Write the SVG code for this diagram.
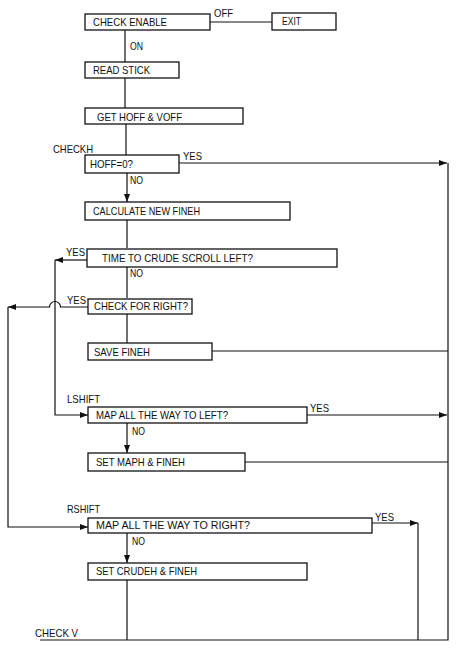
<svg xmlns="http://www.w3.org/2000/svg" width="460" height="648" viewBox="0 0 460 648">
<style>
  .box { fill: #ffffff; stroke: #111111; stroke-width: 1.3; }
  .ln { fill: none; stroke: #111111; stroke-width: 1.2; }
  text { font-family: "Liberation Sans", Arial, sans-serif; font-size: 10.5px; fill: #111111; }
</style>
<defs>
  <marker id="arr" markerUnits="userSpaceOnUse" markerWidth="8" markerHeight="6" refX="8" refY="3" orient="auto">
    <path d="M0,0 L8,3 L0,6 Z" fill="#111111"/>
  </marker>
</defs>
<rect width="460" height="648" fill="#ffffff"/>

<g id="connectors">
  <path class="ln" d="M210,22 H272"/>
  <path class="ln" d="M125,30 V62"/>
  <path class="ln" d="M125,78 V108"/>
  <path class="ln" d="M126,124 V155"/>
  <path class="ln" d="M127,173 V202" marker-end="url(#arr)"/>
  <path class="ln" d="M179,163 H447" marker-end="url(#arr)"/>
  <path class="ln" d="M127,220 V248"/>
  <path class="ln" d="M87,260 H55" marker-end="url(#arr)"/>
  <path class="ln" d="M55,260 V415 H88" marker-end="url(#arr)"/>
  <path class="ln" d="M127,267 V298"/>
  <path class="ln" d="M88,307 H60.5 A5.5,5.5 0 0 0 49.5,307 H8" marker-end="url(#arr)"/>
  <path class="ln" d="M8,307 V527 H88" marker-end="url(#arr)"/>
  <path class="ln" d="M127,313 V343"/>
  <path class="ln" d="M212,351 H448"/>
  <path class="ln" d="M307,415 H447" marker-end="url(#arr)"/>
  <path class="ln" d="M127,423 V453" marker-end="url(#arr)"/>
  <path class="ln" d="M245,462 H448"/>
  <path class="ln" d="M372,523 H418" marker-end="url(#arr)"/>
  <path class="ln" d="M418,523 V640"/>
  <path class="ln" d="M127,533 V563" marker-end="url(#arr)"/>
  <path class="ln" d="M127,580 V640"/>
  <path class="ln" d="M40,640 H448 V163"/>
</g>

<g id="labels">
  <text x="214" y="17" textLength="19" lengthAdjust="spacingAndGlyphs">OFF</text>
  <text x="130" y="50" textLength="13" lengthAdjust="spacingAndGlyphs">ON</text>
  <text x="53" y="153" textLength="40" lengthAdjust="spacingAndGlyphs">CHECKH</text>
  <text x="183" y="160" textLength="19" lengthAdjust="spacingAndGlyphs">YES</text>
  <text x="130" y="184" textLength="13" lengthAdjust="spacingAndGlyphs">NO</text>
  <text x="66" y="256" textLength="19" lengthAdjust="spacingAndGlyphs">YES</text>
  <text x="130" y="277" textLength="13" lengthAdjust="spacingAndGlyphs">NO</text>
  <text x="67" y="304" textLength="19" lengthAdjust="spacingAndGlyphs">YES</text>
  <text x="67" y="403" textLength="33" lengthAdjust="spacingAndGlyphs">LSHIFT</text>
  <text x="310" y="412" textLength="19" lengthAdjust="spacingAndGlyphs">YES</text>
  <text x="132" y="435" textLength="13" lengthAdjust="spacingAndGlyphs">NO</text>
  <text x="67" y="513" textLength="33" lengthAdjust="spacingAndGlyphs">RSHIFT</text>
  <text x="375" y="521" textLength="19" lengthAdjust="spacingAndGlyphs">YES</text>
  <text x="132" y="545" textLength="13" lengthAdjust="spacingAndGlyphs">NO</text>
  <text x="35" y="637" textLength="43" lengthAdjust="spacingAndGlyphs">CHECK V</text>
</g>

<g id="check_enable">
  <rect class="box" x="85" y="14" width="125" height="16"/>
  <text x="93" y="26" textLength="74" lengthAdjust="spacingAndGlyphs">CHECK ENABLE</text>
</g>
<g id="exit">
  <rect class="box" x="272" y="13" width="64" height="17"/>
  <text x="282" y="25" textLength="19" lengthAdjust="spacingAndGlyphs">EXIT</text>
</g>
<g id="read_stick">
  <rect class="box" x="85" y="62" width="94" height="16"/>
  <text x="93" y="74" textLength="57" lengthAdjust="spacingAndGlyphs">READ STICK</text>
</g>
<g id="get_hoff_voff">
  <rect class="box" x="85" y="108" width="158" height="16"/>
  <text x="97" y="121" textLength="85" lengthAdjust="spacingAndGlyphs">GET  HOFF &amp; VOFF</text>
</g>
<g id="hoff_zero">
  <rect class="box" x="85" y="155" width="94" height="18"/>
  <text x="90" y="168" textLength="43" lengthAdjust="spacingAndGlyphs">HOFF=0?</text>
</g>
<g id="calculate_fineh">
  <rect class="box" x="85" y="202" width="205" height="18"/>
  <text x="93" y="215" textLength="107" lengthAdjust="spacingAndGlyphs">CALCULATE NEW FINEH</text>
</g>
<g id="crude_scroll_left">
  <rect class="box" x="87" y="249" width="250" height="18"/>
  <text x="102" y="262" textLength="151" lengthAdjust="spacingAndGlyphs">TIME TO CRUDE SCROLL LEFT?</text>
</g>
<g id="check_right">
  <rect class="box" x="88" y="299" width="104" height="15"/>
  <text x="94" y="310" textLength="94" lengthAdjust="spacingAndGlyphs">CHECK FOR RIGHT?</text>
</g>
<g id="save_fineh">
  <rect class="box" x="88" y="343" width="124" height="17"/>
  <text x="94" y="356" textLength="56" lengthAdjust="spacingAndGlyphs">SAVE FINEH</text>
</g>
<g id="map_left">
  <rect class="box" x="88" y="407" width="219" height="16"/>
  <text x="96" y="419" textLength="132" lengthAdjust="spacingAndGlyphs">MAP ALL THE WAY TO LEFT?</text>
</g>
<g id="set_maph">
  <rect class="box" x="88" y="453" width="157" height="18"/>
  <text x="96" y="466" textLength="89" lengthAdjust="spacingAndGlyphs">SET MAPH &amp; FINEH</text>
</g>
<g id="map_right">
  <rect class="box" x="88" y="518" width="284" height="15"/>
  <text x="96" y="529" textLength="154" lengthAdjust="spacingAndGlyphs">MAP ALL THE WAY TO RIGHT?</text>
</g>
<g id="set_crudeh">
  <rect class="box" x="88" y="563" width="219" height="17"/>
  <text x="96" y="575" textLength="101" lengthAdjust="spacingAndGlyphs">SET CRUDEH &amp; FINEH</text>
</g>
</svg>
